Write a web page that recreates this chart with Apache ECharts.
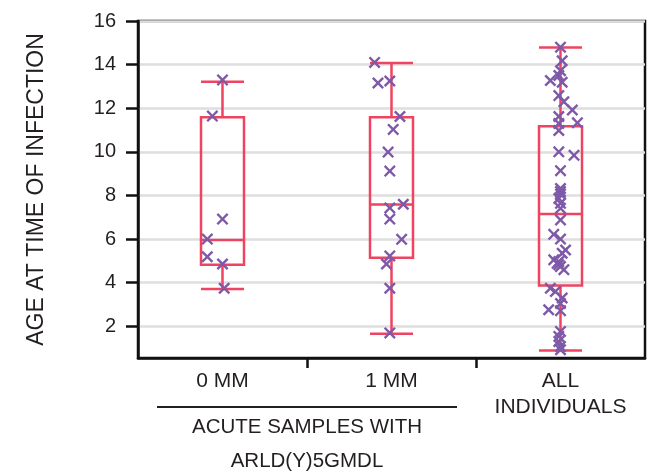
<!DOCTYPE html>
<html>
<head>
<meta charset="utf-8">
<script src="https://cdn.jsdelivr.net/npm/echarts@6/dist/echarts.min.js"></script>
<style>html,body{margin:0;padding:0;background:#fff}#c{width:660px;height:473px}</style>
</head>
<body>
<div id="c"></div>
<script>
// ---- data ----
var categories = ['0 MM', '1 MM', 'ALL\nINDIVIDUALS'];
var yTicks = [2, 4, 6, 8, 10, 12, 14, 16];
var xGroupTicks = [0.5, 1.5];
// [min, Q1, median, Q3, max]
var box0MM = [3.71, 4.82, 5.96, 11.59, 13.22];
var box1MM = [1.66, 5.15, 7.59, 11.59, 14.08];
var boxAll = [0.89, 3.87, 7.15, 11.17, 14.79];

var pts0MM = [13.30, 11.64, 6.92, 6.00, 5.19, 4.86, 3.75];
var jit0MM = [0, -0.06, 0, -0.09, -0.09, 0, 0.01];

var pts1MM = [14.10, 13.16, 13.25, 11.62, 11.03, 9.99, 9.12, 7.60, 7.43, 6.92, 5.99, 5.23, 4.86, 3.75, 1.70];
var jit1MM = [-0.10, -0.08, -0.01, 0.05, 0.01, -0.02, -0.01, 0.07, -0.01, -0.01, 0.06, -0.01, -0.03, -0.01, -0.01];

var ptsAll = [14.80, 14.18, 13.72, 13.50, 13.27, 13.19, 12.58, 12.30, 11.92, 11.62, 11.33, 11.30, 10.98, 10.00, 9.84, 9.14,
  8.32, 8.18, 8.07, 7.86, 7.64, 7.41, 6.88, 6.22, 6.00, 5.50, 5.35, 5.05, 4.97, 4.89, 4.82, 4.74, 4.60,
  3.75, 3.60, 3.30, 3.05, 2.76, 2.72, 1.77, 1.54, 1.31, 1.08, 0.93];
var jitAll = [0, 0.01, 0, -0.01, -0.06, 0.01, -0.01, 0.02, 0.07, -0.01, 0.10, -0.01, -0.01, -0.01, 0.08, 0,
  0, 0, 0, -0.01, 0, 0, 0, -0.04, 0, 0.03, 0.01, -0.04, -0.01, -0.02, -0.01, 0, 0.02,
  -0.06, -0.03, 0.01, 0, -0.07, 0, 0, -0.01, -0.01, 0, 0];

var yAxisTitle = 'AGE AT TIME OF INFECTION';
var groupLine1 = 'ACUTE SAMPLES WITH';
var groupLine2 = 'ARLD(Y)5GMDL';

// ---- build ----
var boxColor = '#ee4462';
var ptColor = '#7e59a8';
var textColor = '#231f20';
var font = 'Liberation Sans, Arial, sans-serif';
var xPath = 'path://M0,1.4L1.4,0L5,3.6L8.6,0L10,1.4L6.4,5L10,8.6L8.6,10L5,6.4L1.4,10L0,8.6L3.6,5Z';

function pts(vals, jit, idx) {
  return vals.map(function (v, i) { return [idx + jit[i], v]; });
}
var scatterData = [].concat(pts(pts0MM, jit0MM, 0), pts(pts1MM, jit1MM, 1), pts(ptsAll, jitAll, 2));

var chart = echarts.init(document.getElementById('c'), null, { renderer: 'canvas' });
chart.setOption({
  animation: false,
  backgroundColor: '#fff',
  grid: { left: 138, right: 15, top: 21, bottom: 115, show: true, borderColor: '#111', borderWidth: 2.5, backgroundColor: 'transparent' },
  xAxis: [{
    type: 'category',
    data: categories,
    axisLine: { lineStyle: { color: '#111', width: 2.5 } },
    axisTick: { show: false },
    axisLabel: { color: textColor, fontFamily: font, fontSize: 21, lineHeight: 26, margin: 10, interval: 0 },
    splitLine: { show: false }
  }, {
    type: 'value', min: -0.5, max: 2.5, position: 'bottom',
    axisLine: { show: false },
    axisTick: { show: true, length: 10, customValues: xGroupTicks, lineStyle: { color: '#111', width: 2.5 } },
    axisLabel: { show: false },
    splitLine: { show: false }
  }],
  yAxis: {
    type: 'value', min: 0.55, max: 16,
    name: yAxisTitle, nameLocation: 'middle', nameRotate: 90, nameGap: 90,
    nameTextStyle: { color: textColor, fontFamily: font, fontSize: 23 },
    axisLine: { show: true, onZero: false, lineStyle: { color: '#111', width: 2.5 } },
    axisTick: { show: true, length: 12, customValues: yTicks, lineStyle: { color: '#111', width: 2.5 } },
    axisLabel: { customValues: yTicks, color: textColor, fontFamily: font, fontSize: 20, margin: 22 },
    splitLine: { show: true, lineStyle: { color: '#dedede', width: 2.5 } }
  },
  series: [{
    type: 'boxplot',
    xAxisIndex: 0,
    data: [box0MM, box1MM, boxAll],
    boxWidth: [43, 43],
    itemStyle: { color: 'rgba(0,0,0,0)', borderColor: boxColor, borderWidth: 2.5 },
    z: 3
  }, {
    type: 'scatter',
    xAxisIndex: 1,
    data: scatterData,
    symbol: xPath,
    symbolSize: 12,
    itemStyle: { color: ptColor, opacity: 1 },
    z: 4
  }],
  graphic: [{
    type: 'line', shape: { x1: 157, y1: 407, x2: 457, y2: 407 },
    style: { stroke: '#231f20', lineWidth: 2 }
  }, {
    type: 'text', x: 307, y: 427,
    style: { text: groupLine1, fill: textColor, font: '20.5px ' + font, textAlign: 'center', textVerticalAlign: 'middle' }
  }, {
    type: 'text', x: 307, y: 461,
    style: { text: groupLine2, fill: textColor, font: '20.5px ' + font, textAlign: 'center', textVerticalAlign: 'middle' }
  }]
});
</script>
</body>
</html>
